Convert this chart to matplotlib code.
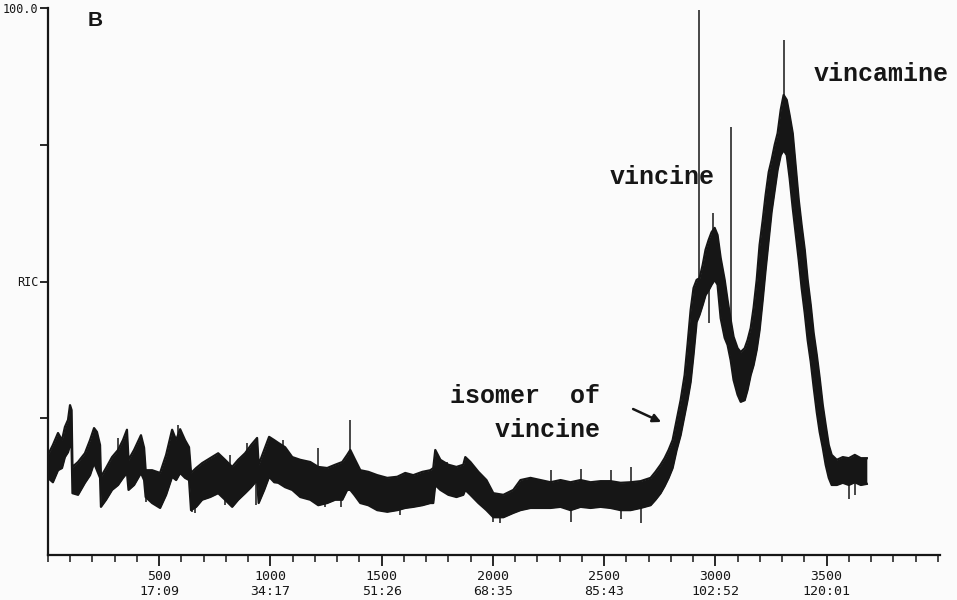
import matplotlib.pyplot as plt
from matplotlib.ticker import MultipleLocator

# scan number, upper and lower edge of the RIC trace (percent)
scans = [0, 22, 45, 63, 76, 90, 99, 106, 110, 135, 166, 189, 207, 220, 234, 238,
         261, 288, 315, 337, 355, 362, 387, 418, 432, 439, 468, 504, 531, 558, 576,
         594, 616, 634, 643, 666, 693, 729, 765, 796, 828, 855, 886, 913, 940, 947,
         972, 994, 1017, 1035, 1066, 1098, 1134, 1179, 1215, 1255, 1291, 1323, 1345,
         1359, 1377, 1404, 1440, 1480, 1525, 1570, 1606, 1642, 1683, 1719, 1732,
         1741, 1764, 1800, 1836, 1867, 1876, 1899, 1935, 1971, 2002, 2047, 2092,
         2124, 2169, 2214, 2259, 2304, 2349, 2394, 2439, 2484, 2529, 2574, 2619,
         2664, 2709, 2731, 2754, 2772, 2790, 2808, 2826, 2844, 2862, 2875, 2889,
         2902, 2916, 2929, 2943, 2956, 2970, 2983, 2997, 3010, 3024, 3042, 3055,
         3069, 3082, 3100, 3114, 3132, 3145, 3159, 3172, 3186, 3199, 3213, 3226,
         3240, 3253, 3267, 3280, 3294, 3307, 3321, 3334, 3348, 3361, 3375, 3388,
         3402, 3415, 3429, 3442, 3456, 3469, 3483, 3496, 3510, 3523, 3546, 3573,
         3600, 3627, 3654, 3681]
upper = [18.3, 20.1, 22.3, 21.0, 23.4, 24.7, 27.4, 26.5, 16.1, 17.0, 18.6, 21.0, 23.2,
         22.5, 20.1, 14.3, 15.9, 17.9, 19.2, 21.0, 22.9, 17.4, 19.2, 21.9, 19.6, 15.5,
         15.5, 15.0, 18.3, 22.9, 21.0, 23.0, 21.0, 19.7, 15.0, 15.9, 16.8, 17.7, 18.6,
         17.4, 16.1, 17.4, 18.6, 20.1, 21.4, 16.5, 19.2, 21.6, 21.0, 20.5, 19.7, 17.9,
         17.4, 17.0, 16.1, 15.9, 16.5, 17.0, 18.3, 19.2, 17.7, 15.5, 15.2, 14.6, 14.1,
         14.3, 15.0, 14.6, 15.2, 15.5, 15.9, 19.2, 17.4, 16.5, 16.1, 16.5, 17.9, 17.0,
         15.2, 13.7, 11.3, 11.0, 11.9, 13.7, 14.1, 13.7, 13.3, 13.7, 13.3, 13.7, 13.3,
         13.5, 13.5, 13.2, 13.3, 13.5, 14.1, 15.2, 16.5, 17.7, 19.2, 21.0, 24.7, 28.3,
         32.9, 38.4, 44.8, 48.8, 50.3, 50.6, 53.0, 55.8, 57.6, 59.0, 59.8, 58.5, 54.3,
         50.3, 46.6, 43.0, 39.9, 37.8, 37.1, 37.8, 39.3, 41.5, 45.2, 50.3, 56.7, 61.2,
         65.8, 70.0, 72.2, 75.0, 77.1, 81.4, 84.1, 83.2, 80.4, 77.1, 71.3, 64.9, 60.3,
         55.8, 50.3, 45.7, 40.6, 36.6, 32.4, 27.4, 23.8, 20.1, 18.3, 17.4, 17.9, 17.7,
         18.3, 17.7, 17.7]
lower = [14.1, 13.3, 15.5, 15.9, 17.9, 18.8, 20.1, 19.6, 11.3, 11.0, 13.2, 14.6, 16.8,
         15.5, 14.1, 8.8, 10.1, 11.9, 12.8, 14.1, 15.0, 11.9, 12.8, 15.0, 13.7, 10.6,
         9.5, 8.6, 11.0, 14.3, 13.7, 15.0, 14.1, 13.7, 8.2, 8.8, 10.1, 10.6, 11.3, 10.1,
         8.8, 10.1, 11.3, 12.4, 13.7, 9.5, 11.9, 14.3, 13.3, 13.2, 12.4, 11.9, 10.6,
         10.1, 9.1, 9.5, 10.1, 10.1, 11.9, 11.9, 11.0, 9.5, 9.1, 8.2, 7.9, 8.2, 8.6,
         8.8, 9.1, 9.5, 9.5, 12.8, 11.9, 11.0, 10.6, 11.0, 11.9, 11.0, 9.5, 8.2, 6.9,
         6.9, 7.7, 8.2, 8.6, 8.6, 8.6, 8.8, 8.2, 8.8, 8.6, 8.8, 8.6, 8.2, 8.2, 8.6,
         9.1, 10.1, 11.3, 12.6, 14.1, 15.9, 19.2, 21.9, 25.6, 28.3, 31.6, 36.6, 42.6,
         43.9, 45.7, 47.5, 48.4, 49.4, 50.3, 49.4, 43.3, 39.7, 38.4, 35.6, 32.0, 29.3,
         28.0, 28.3, 30.2, 32.9, 34.7, 37.5, 41.1, 46.6, 52.1, 57.6, 62.7, 66.7, 70.4,
         73.1, 74.0, 73.1, 68.9, 63.4, 58.9, 53.9, 48.8, 44.2, 39.3, 35.3, 30.7, 26.1,
         22.5, 19.6, 16.5, 14.1, 12.8, 12.8, 13.2, 12.8, 13.3, 12.8, 13.0]

# single spikes seen on the trace (scan, bottom, top)
spike_scans = [2925, 3069, 3307, 1359, 1215, 585, 895, 1057, 1795, 1584, 2002, 2034,
               2664, 648, 2259, 2394, 2529, 2619, 2349, 2574, 3600, 3627, 2970, 2990,
               315, 819, 661, 796, 936, 1246, 1318, 441]
spike_low = [45.0, 38.0, 76.0, 17.0, 14.0, 18.0, 15.0, 15.0, 12.0, 7.3, 6.0, 5.9,
             5.9, 7.9, 12.0, 12.0, 12.0, 12.0, 6.0, 6.5, 10.3, 11.0, 42.4, 55.0,
             15.0, 11.0, 7.7, 9.1, 9.1, 8.8, 8.8, 9.7]
spike_high = [99.6, 78.2, 94.1, 24.7, 19.6, 23.8, 20.5, 21.0, 17.0, 12.0, 10.0, 9.0,
              10.0, 12.0, 15.5, 15.7, 15.5, 16.1, 10.0, 10.0, 14.0, 15.0, 50.0, 62.5,
              21.4, 18.3, 12.0, 13.0, 14.0, 12.0, 12.0, 13.0]

tick_scans = [500, 1000, 1500, 2000, 2500, 3000, 3500]
tick_times = ["17:09", "34:17", "51:26", "68:35", "85:43", "102:52", "120:01"]

ink = "#161616"
paper = "#fbfbfb"

fig = plt.figure(figsize=(9.57, 6.0), dpi=100)
fig.patch.set_facecolor(paper)
ax = fig.add_axes([48 / 957, 45 / 600, 892 / 957, 547 / 600])
ax.set_facecolor(paper)

ax.fill_between(scans, lower, upper, color=ink, lw=0)
ax.plot(scans, upper, color=ink, lw=1.6)
ax.plot(scans, lower, color=ink, lw=1.6)
ax.vlines(spike_scans, spike_low, spike_high, color=ink, lw=1.1)

ax.set_xlim(0, 4010)
ax.set_ylim(0, 100)
for s in ["top", "right"]:
    ax.spines[s].set_visible(False)
for s in ["left", "bottom"]:
    ax.spines[s].set_linewidth(1.6)
    ax.spines[s].set_color(ink)

ax.set_xticks(tick_scans)
ax.set_xticklabels([f"{s}\n{t}" for s, t in zip(tick_scans, tick_times)],
                   fontfamily="DejaVu Sans Mono", fontsize=9.5, color=ink, linespacing=1.15)
ax.xaxis.set_minor_locator(MultipleLocator(100))
ax.tick_params(axis="x", which="major", length=8, width=1.3, color=ink, pad=3)
ax.tick_params(axis="x", which="minor", length=5, width=1.1, color=ink)

ax.set_yticks([25, 50, 75, 100])
ax.set_yticklabels(["", "RIC", "", "100.0"], fontfamily="DejaVu Sans Mono",
                   fontsize=8.5, color=ink)
ax.tick_params(axis="y", length=6, width=1.3, color=ink, pad=1)

ax.text(211, 97.8, "B", fontsize=15, fontweight="bold", family="Liberation Sans",
        ha="center", va="center", color=ink)
mono = dict(family="Liberation Mono", fontweight="bold", fontsize=18, color=ink)
ax.text(3744, 87.9, "vincamine", ha="center", va="center", **mono)
ax.text(2763, 69.1, "vincine", ha="center", va="center", **mono)
ax.text(1809, 26.0, "isomer  of\n   vincine", ha="left", va="center",
        linespacing=1.5, **mono)
ax.annotate("", xy=(2768, 24.1), xytext=(2619, 26.9),
            arrowprops=dict(arrowstyle="-|>", color=ink, lw=1.8, mutation_scale=12))

fig.savefig("out.png", dpi=100, facecolor=paper)
